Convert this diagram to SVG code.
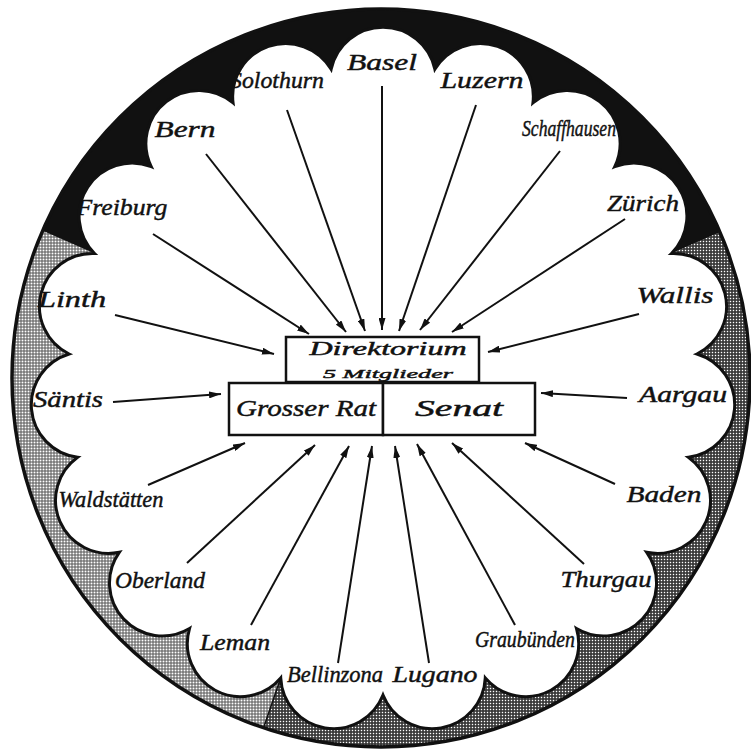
<svg xmlns="http://www.w3.org/2000/svg" width="751" height="752" viewBox="0 0 751 752">
<defs>
  <pattern id="light" width="3" height="3" patternUnits="userSpaceOnUse">
    <rect width="3" height="3" fill="#555"/>
    <rect x="0.5" y="0.5" width="2" height="2" fill="#fff"/>
  </pattern>
  <pattern id="dark" width="3" height="3" patternUnits="userSpaceOnUse">
    <rect width="3" height="3" fill="#333"/>
    <rect x="0.8" y="0.8" width="1.4" height="1.4" fill="#fff"/>
  </pattern>
  <clipPath id="disc"><circle cx="381" cy="378" r="369"/></clipPath>
  <marker id="arr" viewBox="0 0 12 7" refX="12" refY="3.5" markerWidth="12" markerHeight="7" markerUnits="userSpaceOnUse" orient="auto">
    <path d="M0,0 L12,3.5 L0,7 Z" fill="#111"/>
  </marker>
</defs>
<style>
  .lbl { font-family: "Liberation Serif", "DejaVu Serif", serif; font-style: italic; font-size: 24px; fill: #111; stroke: #111; stroke-width: 0.45; text-anchor: middle; }
  .conn line { stroke: #111; stroke-width: 2; marker-end: url(#arr); }
  .box { fill: #fff; stroke: #111; stroke-width: 2.5; }
</style>
<rect width="751" height="752" fill="#fff"/>

<g id="ring">
  <circle cx="381" cy="378" r="369" fill="url(#light)"/>
  <g clip-path="url(#disc)">
    <path d="M383,380 L-1.6,211.2 A420,420 0 0 1 767.6,211.2 Z" fill="#111"/>
    <path d="M383,380 L767.6,211.2 A420,420 0 0 1 246.3,777.1 Z" fill="url(#dark)"/>
    <line x1="280.7" y1="677.9" x2="253.1" y2="758.3" stroke="#111" stroke-width="1.5"/>
  </g>
  <circle cx="381" cy="378" r="369" fill="none" stroke="#111" stroke-width="3.5"/>
  <path id="scallops" d="M331.15,69.30 A53,53 0 0 1 434.85,69.30 A53,53 0 0 1 532.92,102.97 A53,53 0 0 1 614.75,166.66 A53,53 0 0 1 671.47,253.46 A53,53 0 0 1 696.92,353.99 A53,53 0 0 1 688.36,457.33 A53,53 0 0 1 646.71,552.29 A53,53 0 0 1 576.48,628.58 A53,53 0 0 1 485.28,677.93 A53,53 0 0 1 383,695 A53,53 0 0 1 280.72,677.93 A53,53 0 0 1 189.52,628.58 A53,53 0 0 1 119.29,552.29 A53,53 0 0 1 77.64,457.33 A53,53 0 0 1 69.08,353.99 A53,53 0 0 1 94.53,253.46 A53,53 0 0 1 151.25,166.66 A53,53 0 0 1 233.08,102.97 A53,53 0 0 1 331.15,69.30 Z" fill="#fff" stroke="#111" stroke-width="3"/>
</g>

<g id="connectors" class="conn">
  <line x1="382" y1="86" x2="382" y2="330"/>
  <line x1="287" y1="110" x2="365" y2="331"/>
  <line x1="476" y1="105" x2="399" y2="331"/>
  <line x1="206" y1="154" x2="346" y2="332"/>
  <line x1="560" y1="151" x2="420" y2="330"/>
  <line x1="153" y1="234" x2="309" y2="334"/>
  <line x1="625" y1="219" x2="452" y2="332"/>
  <line x1="115" y1="315" x2="274" y2="354"/>
  <line x1="639" y1="314" x2="488" y2="352"/>
  <line x1="113" y1="402" x2="221" y2="394"/>
  <line x1="627" y1="398" x2="541" y2="393"/>
  <line x1="148" y1="485" x2="245" y2="443"/>
  <line x1="615" y1="484" x2="525" y2="443"/>
  <line x1="187" y1="563" x2="315" y2="445"/>
  <line x1="584" y1="564" x2="452" y2="443"/>
  <line x1="251" y1="625" x2="349" y2="446"/>
  <line x1="515" y1="625" x2="417" y2="444"/>
  <line x1="338" y1="663" x2="372" y2="446"/>
  <line x1="429" y1="663" x2="395" y2="446"/>
</g>

<g id="direktorium">
  <rect class="box" x="286" y="337" width="193" height="45"/>
  <text class="lbl"><tspan x="388" y="355" font-size="18" textLength="157" lengthAdjust="spacingAndGlyphs">Direktorium</tspan><tspan x="388" y="378" font-size="13.5" textLength="130" lengthAdjust="spacingAndGlyphs">5 Mitglieder</tspan></text>
</g>
<g id="grosser-rat">
  <rect class="box" x="229" y="383" width="154" height="52"/>
  <text class="lbl" x="306" y="416" font-size="25" textLength="140" lengthAdjust="spacingAndGlyphs">Grosser Rat</text>
</g>
<g id="senat">
  <rect class="box" x="383" y="383" width="152" height="52"/>
  <text class="lbl" x="459" y="416" font-size="25" textLength="88" lengthAdjust="spacingAndGlyphs">Senat</text>
</g>

<g id="basel"><text class="lbl" x="382" y="70" textLength="70" lengthAdjust="spacingAndGlyphs">Basel</text></g>
<g id="solothurn"><text class="lbl" x="277" y="88" font-size="22" textLength="94" lengthAdjust="spacingAndGlyphs">Solothurn</text></g>
<g id="luzern"><text class="lbl" x="482" y="88" textLength="83" lengthAdjust="spacingAndGlyphs">Luzern</text></g>
<g id="bern"><text class="lbl" x="185" y="137" textLength="61" lengthAdjust="spacingAndGlyphs">Bern</text></g>
<g id="schaffhausen"><text class="lbl" x="569" y="136" font-size="21" textLength="94" lengthAdjust="spacingAndGlyphs">Schaffhausen</text></g>
<g id="freiburg"><text class="lbl" x="122" y="215" textLength="91" lengthAdjust="spacingAndGlyphs">Freiburg</text></g>
<g id="zuerich"><text class="lbl" x="643" y="211" textLength="72" lengthAdjust="spacingAndGlyphs">Zürich</text></g>
<g id="linth"><text class="lbl" x="72" y="307" textLength="68" lengthAdjust="spacingAndGlyphs">Linth</text></g>
<g id="wallis"><text class="lbl" x="675" y="303" textLength="77" lengthAdjust="spacingAndGlyphs">Wallis</text></g>
<g id="saentis"><text class="lbl" x="68" y="407" textLength="70" lengthAdjust="spacingAndGlyphs">Säntis</text></g>
<g id="aargau"><text class="lbl" x="683" y="402" textLength="88" lengthAdjust="spacingAndGlyphs">Aargau</text></g>
<g id="waldstaetten"><text class="lbl" x="111" y="507" font-size="21" textLength="105" lengthAdjust="spacingAndGlyphs">Waldstätten</text></g>
<g id="baden"><text class="lbl" x="664" y="502" textLength="75" lengthAdjust="spacingAndGlyphs">Baden</text></g>
<g id="oberland"><text class="lbl" x="160" y="588" textLength="90" lengthAdjust="spacingAndGlyphs">Oberland</text></g>
<g id="thurgau"><text class="lbl" x="606" y="587" textLength="91" lengthAdjust="spacingAndGlyphs">Thurgau</text></g>
<g id="leman"><text class="lbl" x="235" y="650" textLength="70" lengthAdjust="spacingAndGlyphs">Leman</text></g>
<g id="graubuenden"><text class="lbl" x="525" y="647" font-size="21" textLength="100" lengthAdjust="spacingAndGlyphs">Graubünden</text></g>
<g id="bellinzona"><text class="lbl" x="335" y="682" font-size="22" textLength="96" lengthAdjust="spacingAndGlyphs">Bellinzona</text></g>
<g id="lugano"><text class="lbl" x="435" y="682" textLength="85" lengthAdjust="spacingAndGlyphs">Lugano</text></g>
</svg>
